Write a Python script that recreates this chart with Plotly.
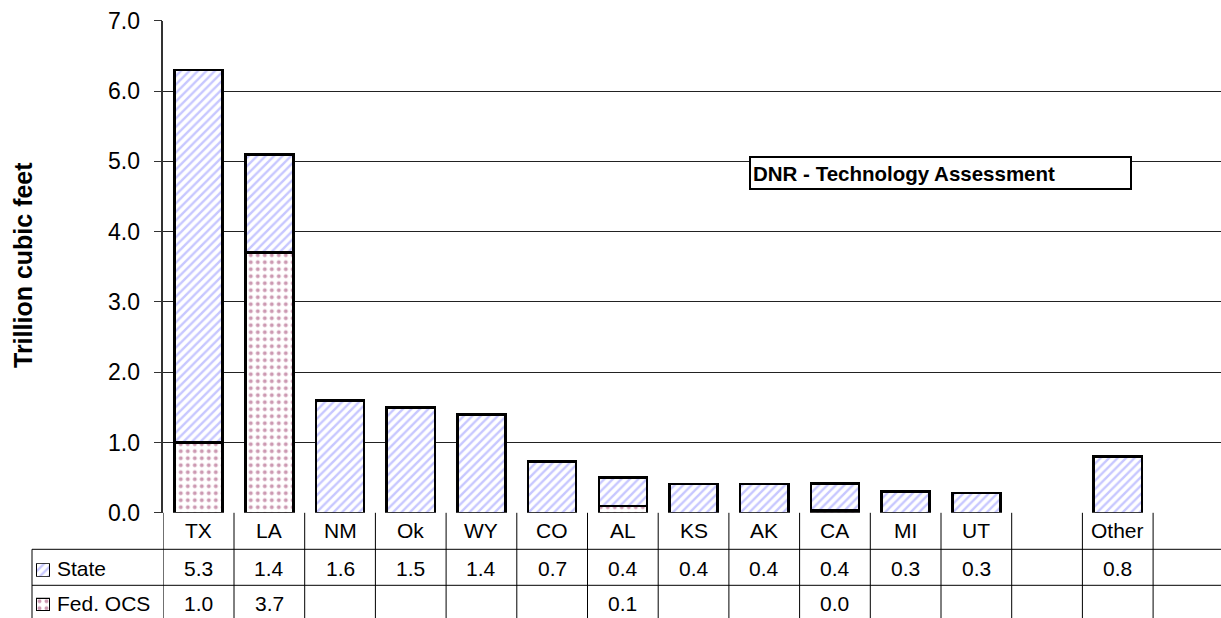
import plotly.graph_objects as go

# ---- data -------------------------------------------------------------
categories = ["TX", "LA", "NM", "Ok", "WY", "CO", "AL", "KS", "AK", "CA",
              "MI", "UT", "", "Other", ""]
state = [5.3, 1.4, 1.6, 1.5, 1.4, 0.73, 0.4, 0.41, 0.41, 0.39,
         0.3, 0.28, None, 0.8, None]
fed_ocs = [1.0, 3.7, None, None, None, None, 0.1, None, None, 0.03,
           None, None, None, None, None]
y_ticks = [0, 1, 2, 3, 4, 5, 6, 7]

# ---- page geometry (pixels) -------------------------------------------
W, H = 1221, 618
PLOT_L, PLOT_T, PLOT_B = 163.3, 20.7, 512.8
COL_W = 70.7
ROW1_B, ROW2_B = 549.3, 585.3
TABLE_L = 32
FONT = "Liberation Sans, Arial, sans-serif"
CELL_SIZE = 21


def px_x(x):
    return x / W


def px_y(y):
    return (H - y) / H


x_range = [-0.5, -0.5 + (W - PLOT_L) / COL_W]
idx = list(range(len(categories)))

STATE_PATTERN = dict(shape="/", fgcolor="#8f8fff", bgcolor="white",
                     size=6, solidity=0.4)
FED_PATTERN = dict(shape=".", fgcolor="#993366", bgcolor="white",
                   size=7, solidity=0.25)
OUTLINE = dict(color="black", width=2.5)

fig = go.Figure()

fig.add_trace(go.Bar(
    x=idx, y=fed_ocs, name="Fed. OCS", width=0.68,
    marker=dict(color="white", line=OUTLINE, pattern=FED_PATTERN),
    showlegend=False, xaxis="x", yaxis="y"))
fig.add_trace(go.Bar(
    x=idx, y=state, name="State", width=0.68,
    marker=dict(color="white", line=OUTLINE, pattern=STATE_PATTERN),
    showlegend=False, xaxis="x", yaxis="y"))

# legend keys inside the data table
key_boxes = {
    "2": (36, 50, 563.3, 576.7, STATE_PATTERN),
    "3": (36, 50, 597.7, 611.0, FED_PATTERN),
}
for n, (x0, x1, y0, y1, pat) in key_boxes.items():
    fig.add_trace(go.Bar(
        x=[0], y=[1], width=1,
        marker=dict(color="white", line=dict(color="black", width=2),
                    pattern=pat),
        showlegend=False, hoverinfo="skip",
        xaxis="x" + n, yaxis="y" + n))
    fig.layout["xaxis" + n] = dict(
        domain=[px_x(x0), px_x(x1)], range=[-0.5, 0.5], anchor="y" + n,
        visible=False, fixedrange=True, automargin=False)
    fig.layout["yaxis" + n] = dict(
        domain=[px_y(y1), px_y(y0)], range=[0, 1], anchor="x" + n,
        visible=False, fixedrange=True, automargin=False)

fig.update_layout(
    width=W, height=H,
    margin=dict(l=0, r=0, t=0, b=0, autoexpand=False),
    paper_bgcolor="white", plot_bgcolor="white",
    barmode="stack",
    font=dict(family=FONT, color="black"),
    xaxis=dict(domain=[px_x(PLOT_L), 1], range=x_range,
               showticklabels=False, showgrid=False, zeroline=False,
               showline=False, ticks="", fixedrange=True, automargin=False),
    yaxis=dict(domain=[px_y(PLOT_B), px_y(PLOT_T)], range=[0, 7],
               tickvals=y_ticks, tickformat=".1f",
               showgrid=True, gridcolor="#222", gridwidth=1,
               zeroline=False, showline=True, linecolor="#333",
               linewidth=1.5, ticks="outside", ticklen=8,
               tickcolor="#333", tickfont=dict(size=23, family=FONT),
               ticklabelstandoff=9, fixedrange=True, automargin=False),
)

annotations = []

# axis title
annotations.append(dict(
    x=px_x(23), y=px_y(265), xref="paper", yref="paper",
    xanchor="center", yanchor="middle",
    text="<b>Trillion cubic feet</b>", textangle=-90, showarrow=False,
    font=dict(size=25, family=FONT)))

# boxed caption
annotations.append(dict(
    x=px_x(749), y=px_y(155.7), xref="paper", yref="paper",
    xanchor="left", yanchor="top", align="left",
    text="<b>DNR - Technology Assessment</b>", showarrow=False,
    width=375, height=26, borderpad=2, borderwidth=2,
    bordercolor="black", bgcolor="white",
    font=dict(size=20.5, family=FONT)))

# data table text
cell = dict(xref="x", yref="paper", xanchor="center", yanchor="middle",
            showarrow=False, font=dict(size=CELL_SIZE, family=FONT))
for k, cat in enumerate(categories):
    if cat:
        annotations.append(dict(cell, x=k, y=px_y(530), text=cat))
    if state[k] is not None:
        annotations.append(dict(cell, x=k, y=px_y(568),
                                text=f"{state[k]:.1f}"))
    if fed_ocs[k] is not None:
        annotations.append(dict(cell, x=k, y=px_y(603),
                                text=f"{fed_ocs[k]:.1f}"))

for label, yc in (("State", 568), ("Fed. OCS", 603)):
    annotations.append(dict(x=px_x(55), y=px_y(yc), xref="paper",
                            yref="paper", xanchor="left", yanchor="middle",
                            text=label, showarrow=False,
                            font=dict(size=CELL_SIZE, family=FONT)))

fig.update_layout(annotations=annotations)

# data table grid lines
shapes = []
line = dict(color="black", width=1)
for yb in (ROW1_B, ROW2_B):
    shapes.append(dict(type="line", xref="paper", yref="paper",
                       x0=px_x(TABLE_L), x1=1, y0=px_y(yb), y1=px_y(yb),
                       line=line))
shapes.append(dict(type="line", xref="paper", yref="paper",
                   x0=px_x(TABLE_L), x1=px_x(TABLE_L),
                   y0=px_y(ROW1_B), y1=0, line=line))
for k in range(len(categories) + 1):
    shapes.append(dict(type="line", xref="x", yref="paper",
                       x0=k - 0.5, x1=k - 0.5,
                       y0=px_y(PLOT_B), y1=0, line=line))
fig.update_layout(shapes=shapes)

fig.write_html("out.html")
